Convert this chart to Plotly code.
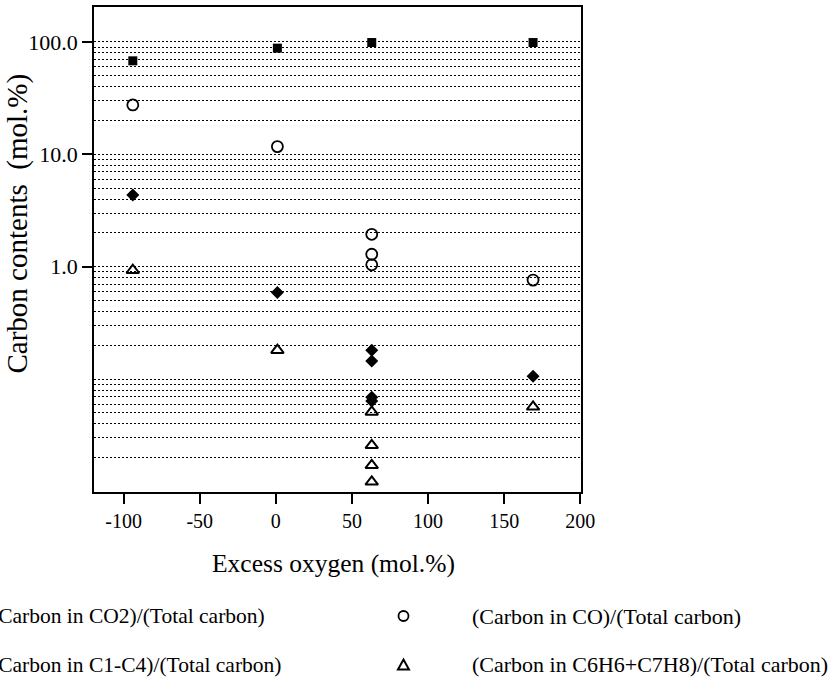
import plotly.graph_objects as go

# ---- data ----
co2_x = [-94, 1, 63, 169]
co2_y = [67.8, 87.9, 98.6, 98.6]

co_x = [-94, 1, 63, 63, 63, 169]
co_y = [27.5, 11.7, 1.94, 1.29, 1.04, 0.76]

c14_x = [-94, 1, 63, 63, 63, 63, 169]
c14_y = [4.35, 0.59, 0.181, 0.145, 0.069, 0.064, 0.106]

arom_x = [-94, 1, 63, 63, 63, 63, 169]
arom_y = [0.93, 0.181, 0.0511, 0.0258, 0.0171, 0.0122, 0.0567]

series_names = [
    "(Carbon in CO2)/(Total carbon)",
    "(Carbon in CO)/(Total carbon)",
    "(Carbon in C1-C4)/(Total carbon)",
    "(Carbon in C6H6+C7H8)/(Total carbon)",
]

y_tickvals = [1, 10, 100]
y_ticktext = ["1.0", "10.0", "100.0"]
x_tickvals = [-100, -50, 0, 50, 100, 150, 200]
x_ticktext = ["-100", "-50", "0", "50", "100", "150", "200"]

x_title = "Excess oxygen (mol.%)"
y_title = "Carbon contents \u00a0(mol.%)"

minor_grid = [m * 10 ** e for e in (-2, -1, 0, 1) for m in range(2, 10)] + [0.1]

FONT = "Liberation Serif, Times New Roman, serif"
BLACK = "#000000"
DASH = "2px,2px"

fig = go.Figure()
fig.add_trace(go.Scatter(x=co2_x, y=co2_y, mode="markers", name=series_names[0],
                         marker=dict(symbol="square", size=9, color=BLACK)))
fig.add_trace(go.Scatter(x=co_x, y=co_y, mode="markers", name=series_names[1],
                         marker=dict(symbol="circle-open", size=11, color=BLACK,
                                     line=dict(width=1.8, color=BLACK))))
fig.add_trace(go.Scatter(x=c14_x, y=c14_y, mode="markers", name=series_names[2],
                         marker=dict(symbol="diamond", size=10, color=BLACK)))
fig.add_trace(go.Scatter(x=arom_x, y=arom_y, mode="markers", name=series_names[3],
                         marker=dict(symbol="triangle-up-open", size=11, color=BLACK,
                                     line=dict(width=2, color=BLACK))))

fig.update_layout(
    width=839, height=678,
    margin=dict(l=94, r=258, t=7, b=186, autoexpand=False),
    paper_bgcolor="white", plot_bgcolor="white",
    showlegend=False,
    font=dict(family=FONT, color=BLACK, size=20),
)

fig.update_xaxes(
    range=[-119.5, 200.5], tickvals=x_tickvals, ticktext=x_ticktext,
    ticks="outside", ticklen=10, tickwidth=1.5, tickcolor=BLACK,
    tickfont=dict(size=20, family=FONT),
    showline=True, linewidth=1.8, linecolor=BLACK, mirror=True,
    showgrid=False, zeroline=False, automargin=False,
)
fig.update_yaxes(
    type="log", range=[-2.004, 2.31], tickvals=y_tickvals, ticktext=y_ticktext,
    ticks="outside", ticklen=10, tickwidth=1.5, tickcolor=BLACK,
    tickfont=dict(size=22, family=FONT),
    showline=True, linewidth=1.8, linecolor=BLACK, mirror=True,
    showgrid=True, gridcolor=BLACK, gridwidth=1, griddash=DASH,
    minor=dict(tickvals=minor_grid, showgrid=True, gridcolor=BLACK, gridwidth=1,
               griddash=DASH, ticks=""),
    zeroline=False, automargin=False,
)

# axis titles placed as in the reference
fig.add_annotation(xref="paper", yref="paper", x=0.4908, y=-0.1464, text=x_title,
                   showarrow=False, xanchor="center", yanchor="middle",
                   font=dict(size=25.5, family=FONT, color=BLACK))
fig.add_annotation(xref="paper", yref="paper", x=-0.1571, y=0.5546, text=y_title,
                   showarrow=False, xanchor="center", yanchor="middle", textangle=-90,
                   font=dict(size=29, family=FONT, color=BLACK))

# ---- legend drawn below the chart ----
legend_rows = [-0.2557, -0.3567]
col_x = [-0.2156, 0.7721]
col_size = [21.5, 22]
sym_x_right = 0.6355
sym_x_left = -0.56

for i, name in enumerate(series_names):
    col = i % 2
    row = i // 2
    fig.add_annotation(xref="paper", yref="paper", x=col_x[col], y=legend_rows[row],
                       text=name, showarrow=False, xanchor="left", yanchor="middle",
                       font=dict(size=col_size[col], family=FONT, color=BLACK))

# symbols (only the right column is inside the page)
fig.add_shape(type="circle", xref="paper", yref="paper", xsizemode="pixel", ysizemode="pixel",
              xanchor=sym_x_right, yanchor=legend_rows[0], x0=-5, x1=5, y0=-5, y1=5,
              line=dict(color=BLACK, width=1.8))
fig.add_shape(type="path", xref="paper", yref="paper", xsizemode="pixel", ysizemode="pixel",
              xanchor=sym_x_right, yanchor=legend_rows[1],
              path="M -5.5 -4.5 L 5.5 -4.5 L 0 5.5 Z", line=dict(color=BLACK, width=2))
fig.add_shape(type="rect", xref="paper", yref="paper", xsizemode="pixel", ysizemode="pixel",
              xanchor=sym_x_left, yanchor=legend_rows[0], x0=-4.5, x1=4.5, y0=-4.5, y1=4.5,
              fillcolor=BLACK, line=dict(color=BLACK, width=0))
fig.add_shape(type="path", xref="paper", yref="paper", xsizemode="pixel", ysizemode="pixel",
              xanchor=sym_x_left, yanchor=legend_rows[1],
              path="M 0 -6 L 6 0 L 0 6 L -6 0 Z", fillcolor=BLACK, line=dict(color=BLACK, width=0))

fig.write_html("out.html")
